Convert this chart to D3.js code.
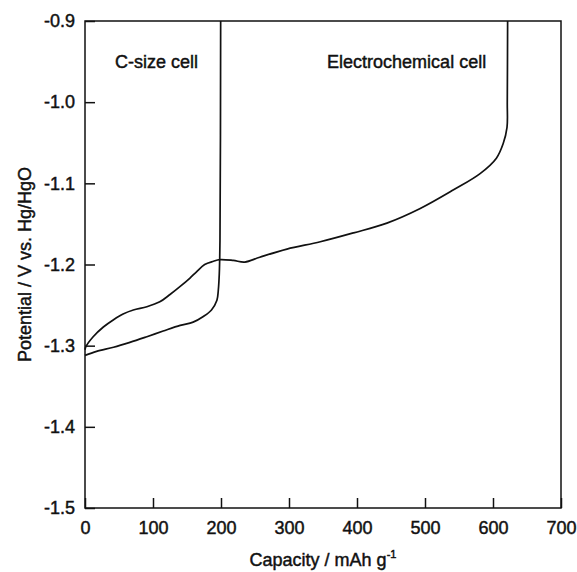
<!DOCTYPE html>
<html>
<head>
<meta charset="utf-8">
<script src="https://cdn.jsdelivr.net/npm/d3@7"></script>
<style>
  html, body { margin: 0; padding: 0; background: #fff; }
  svg { display: block; }
  text { font-family: "Liberation Sans", Arial, Helvetica, sans-serif; fill: #111; stroke: #111; stroke-width: 0.45px; }
</style>
</head>
<body>
<svg id="chart" width="577" height="572"></svg>
<script>
// ---- data ----
const xTicks = [0, 100, 200, 300, 400, 500, 600, 700];
const yTicks = [-0.9, -1.0, -1.1, -1.2, -1.3, -1.4, -1.5];

const cSizeCapacity = [0, 17, 42, 66, 91, 115, 140, 159, 174, 186, 194, 196, 197.5, 198.5, 199.5];
const cSizePotential = [-1.312, -1.307, -1.302, -1.296, -1.289, -1.282, -1.275, -1.271, -1.264, -1.256, -1.244, -1.232, -1.211, -1.17, -0.9];

const echemCapacity = [0, 1.5, 12, 27, 42, 56, 71, 91, 110, 125, 140, 154, 164, 176, 189, 198, 218, 235, 257, 297, 346, 395, 444, 493, 542, 581, 605, 615, 620.6, 621, 621.5];
const echemPotential = [-1.305, -1.301, -1.289, -1.277, -1.268, -1.261, -1.256, -1.252, -1.246, -1.237, -1.227, -1.217, -1.209, -1.200, -1.196, -1.194, -1.195, -1.197, -1.191, -1.181, -1.172, -1.161, -1.149, -1.131, -1.108, -1.088, -1.069, -1.051, -1.031, -1.0, -0.9];

const labels = ["C-size cell", "Electrochemical cell"];
const labelCapacity = [44, 356];
const labelPotential = [-0.958, -0.958];

// ---- layout ----
const svg = d3.select("#chart");
const L = 85, R = 561, T = 21, B = 508;
const x = d3.scaleLinear().domain([0, 700]).range([L, R]);
const y = d3.scaleLinear().domain([-1.5, -0.9]).range([B, T]);
const ink = "#111";
const FS = 18;

// frame
svg.append("rect")
  .attr("x", L).attr("y", T).attr("width", R - L).attr("height", B - T)
  .attr("fill", "none").attr("stroke", ink).attr("stroke-width", 1.5);

// x axis (inward ticks)
const xAxis = d3.axisBottom(x).tickValues(xTicks).tickSizeInner(-10).tickSizeOuter(0).tickPadding(13)
  .tickFormat(d3.format("d"));
const gx = svg.append("g").attr("transform", `translate(0,${B})`).call(xAxis);
gx.select(".domain").remove();
gx.selectAll(".tick line").attr("stroke", ink).attr("stroke-width", 1.5);
gx.selectAll(".tick text").attr("font-size", FS).attr("fill", ink)
  .attr("font-family", "Liberation Sans, Arial, sans-serif");

// y axis (inward ticks)
const yAxis = d3.axisLeft(y).tickValues(yTicks).tickSizeInner(-10).tickSizeOuter(0).tickPadding(10)
  .tickFormat(d3.format(".1f"));
const gy = svg.append("g").attr("transform", `translate(${L},0)`).call(yAxis);
gy.select(".domain").remove();
gy.selectAll(".tick line").attr("stroke", ink).attr("stroke-width", 1.5);
gy.selectAll(".tick text").attr("font-size", FS).attr("fill", ink)
  .attr("font-family", "Liberation Sans, Arial, sans-serif")
  .text(d => d3.format(".1f")(d).replace("\u2212", "-"));

// axis titles
const xt = svg.append("text")
  .attr("x", (L + R) / 2).attr("y", 566)
  .attr("text-anchor", "middle").attr("font-size", FS);
xt.append("tspan").text("Capacity / mAh g");
xt.append("tspan").attr("dy", -8).attr("font-size", 11).text("-1");

svg.append("text")
  .attr("transform", `translate(31,${(T + B) / 2}) rotate(-90)`)
  .attr("text-anchor", "middle").attr("font-size", FS)
  .text("Potential / V vs. Hg/HgO");

// curves
const line = d3.line().x(d => x(d[0])).y(d => y(d[1])).curve(d3.curveCatmullRom.alpha(0.5));
const cData = d3.zip(cSizeCapacity, cSizePotential);
const eData = d3.zip(echemCapacity, echemPotential);

svg.append("path").datum(cData).attr("d", line)
  .attr("fill", "none").attr("stroke", ink).attr("stroke-width", 1.7).attr("stroke-linejoin", "round");
svg.append("path").datum(eData).attr("d", line)
  .attr("fill", "none").attr("stroke", ink).attr("stroke-width", 1.7).attr("stroke-linejoin", "round");

// annotations
svg.selectAll("text.lab").data(labels).enter().append("text")
  .attr("class", "lab")
  .attr("x", (d, i) => x(labelCapacity[i]))
  .attr("y", (d, i) => y(labelPotential[i]))
  .attr("font-size", FS)
  .text(d => d);
</script>
</body>
</html>
